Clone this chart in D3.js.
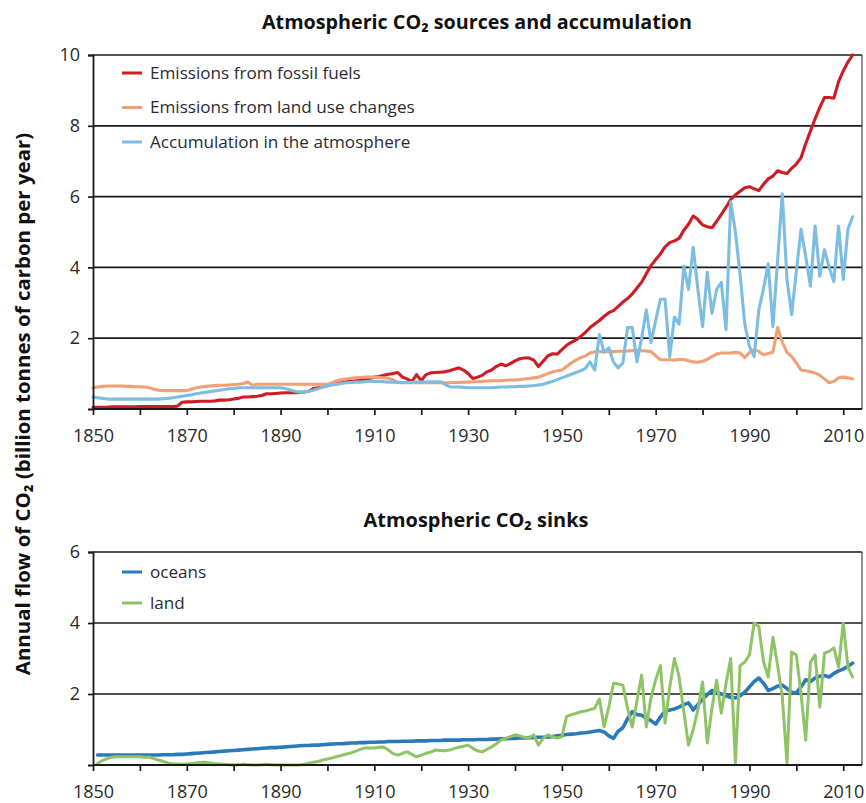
<!DOCTYPE html>
<html><head><meta charset="utf-8">
<script src="https://cdn.jsdelivr.net/npm/d3@7"></script>
<style>
html,body{margin:0;padding:0;background:#fff;}
svg{display:block;font-family:"Open Sans","Noto Sans",sans-serif;}
</style></head>
<body><svg id="c" width="866" height="803"></svg>
<script>
// ---------- DATA ----------
const topStartYear = 1850;   // top panel: 1850..2012
const bottomStartYear = 1851; // bottom panel: 1851..2012
const xTickYears = [1850,1860,1870,1880,1890,1900,1910,1920,1930,1940,1950,1960,1970,1980,1990,2000,2010];
const xTickLabels = ["1850","1870","1890","1910","1930","1950","1970","1990","2010"];
const topYTicks = [2,4,6,8,10];
const bottomYTicks = [2,4,6];

const fossilFuels = [
0.05,0.05,0.05,0.05,0.06,0.06,0.06,0.06,0.06,0.06,
0.07,0.07,0.07,0.07,0.07,0.07,0.07,0.07,0.08,0.19,
0.20,0.20,0.21,0.22,0.22,0.22,0.23,0.25,0.25,0.26,
0.28,0.30,0.34,0.34,0.35,0.36,0.38,0.43,0.43,0.44,
0.45,0.46,0.46,0.46,0.47,0.48,0.50,0.58,0.60,0.63,
0.66,0.69,0.71,0.74,0.77,0.78,0.80,0.82,0.85,0.86,
0.90,0.92,0.95,0.98,1.00,1.03,0.90,0.85,0.77,0.97,
0.80,0.97,1.02,1.03,1.04,1.05,1.08,1.12,1.16,1.10,
1.00,0.86,0.90,0.95,1.05,1.10,1.20,1.27,1.22,1.28,
1.36,1.42,1.44,1.44,1.38,1.20,1.35,1.50,1.56,1.55,
1.68,1.80,1.88,1.95,2.05,2.16,2.30,2.40,2.50,2.62,
2.72,2.78,2.90,3.02,3.12,3.25,3.42,3.58,3.82,4.05,
4.22,4.38,4.58,4.70,4.75,4.82,5.05,5.22,5.45,5.35,
5.20,5.15,5.12,5.30,5.50,5.70,5.92,6.05,6.15,6.25,
6.28,6.22,6.17,6.35,6.50,6.58,6.73,6.68,6.65,6.80,
6.92,7.10,7.50,7.85,8.20,8.52,8.80,8.80,8.78,9.25,
9.55,9.80,10.0];

const landUse = [
0.60,0.62,0.64,0.65,0.65,0.65,0.65,0.64,0.64,0.63,
0.63,0.62,0.60,0.56,0.53,0.52,0.52,0.52,0.52,0.52,
0.52,0.56,0.60,0.62,0.64,0.65,0.66,0.67,0.67,0.68,
0.69,0.70,0.72,0.76,0.67,0.70,0.70,0.70,0.70,0.70,
0.70,0.70,0.70,0.70,0.70,0.70,0.70,0.70,0.70,0.70,
0.70,0.74,0.80,0.83,0.85,0.87,0.88,0.89,0.90,0.90,
0.90,0.89,0.88,0.87,0.82,0.76,0.74,0.74,0.74,0.74,
0.74,0.74,0.74,0.74,0.74,0.74,0.74,0.75,0.75,0.76,
0.76,0.77,0.77,0.78,0.79,0.80,0.80,0.80,0.81,0.82,
0.82,0.83,0.85,0.86,0.88,0.90,0.95,1.00,1.05,1.08,
1.10,1.20,1.30,1.38,1.45,1.50,1.58,1.62,1.62,1.62,
1.62,1.62,1.63,1.63,1.64,1.65,1.65,1.65,1.64,1.62,
1.50,1.39,1.39,1.39,1.38,1.40,1.40,1.36,1.33,1.32,
1.35,1.40,1.48,1.55,1.58,1.58,1.58,1.60,1.58,1.45,
1.60,1.68,1.62,1.53,1.57,1.60,2.30,1.88,1.60,1.48,
1.30,1.10,1.08,1.05,1.02,0.95,0.85,0.74,0.78,0.88,
0.90,0.88,0.85];

const atmosphere = [
0.34,0.32,0.30,0.28,0.28,0.28,0.28,0.28,0.28,0.28,
0.28,0.28,0.28,0.28,0.28,0.29,0.30,0.32,0.34,0.36,
0.38,0.40,0.43,0.45,0.47,0.49,0.51,0.53,0.55,0.57,
0.58,0.60,0.60,0.60,0.60,0.60,0.60,0.60,0.60,0.60,
0.60,0.58,0.54,0.50,0.48,0.48,0.50,0.53,0.57,0.62,
0.66,0.68,0.70,0.72,0.74,0.75,0.76,0.76,0.77,0.78,
0.78,0.78,0.77,0.76,0.76,0.75,0.75,0.75,0.75,0.76,
0.76,0.76,0.77,0.77,0.77,0.70,0.63,0.62,0.62,0.61,
0.60,0.60,0.60,0.60,0.60,0.60,0.61,0.62,0.62,0.63,
0.63,0.64,0.64,0.65,0.66,0.68,0.70,0.74,0.78,0.83,
0.88,0.93,0.98,1.03,1.08,1.15,1.33,1.10,2.10,1.60,
1.73,1.33,1.16,1.30,2.30,2.30,1.33,2.00,2.80,1.88,
2.50,3.10,3.10,1.48,2.60,2.40,4.03,3.38,4.57,3.38,
2.33,3.86,2.70,3.38,3.58,2.24,5.85,5.00,3.80,2.40,
1.76,1.48,2.80,3.40,4.10,2.33,4.20,6.08,3.66,2.67,
3.90,5.08,4.30,3.47,5.17,3.75,4.50,4.00,3.60,5.17,
3.66,5.08,5.43];

const oceans = [
0.28,0.28,0.28,0.28,0.28,0.28,0.28,0.28,0.28,0.28,
0.28,0.28,0.28,0.28,0.29,0.29,0.29,0.30,0.30,0.31,
0.32,0.33,0.34,0.35,0.36,0.37,0.38,0.39,0.40,0.41,
0.42,0.43,0.44,0.45,0.46,0.47,0.48,0.49,0.49,0.50,
0.51,0.52,0.53,0.54,0.55,0.55,0.56,0.56,0.57,0.58,
0.59,0.60,0.60,0.61,0.62,0.62,0.63,0.63,0.64,0.64,
0.65,0.65,0.66,0.66,0.66,0.67,0.67,0.67,0.68,0.68,
0.68,0.69,0.69,0.69,0.70,0.70,0.70,0.70,0.71,0.71,
0.71,0.72,0.72,0.72,0.73,0.73,0.74,0.74,0.75,0.75,
0.76,0.76,0.77,0.77,0.78,0.78,0.79,0.80,0.82,0.84,
0.86,0.87,0.88,0.90,0.91,0.93,0.95,0.97,0.93,0.82,
0.75,0.95,1.05,1.30,1.50,1.42,1.40,1.32,1.25,1.15,
1.35,1.52,1.55,1.58,1.63,1.70,1.75,1.55,1.70,1.85,
1.98,2.10,2.05,2.00,1.95,1.90,1.89,1.95,2.05,2.20,
2.35,2.45,2.30,2.10,2.15,2.22,2.25,2.15,2.05,2.03,
2.20,2.40,2.35,2.45,2.50,2.52,2.48,2.58,2.65,2.70,
2.78,2.87];

const landSink = [
0.05,0.12,0.18,0.22,0.23,0.23,0.23,0.23,0.23,0.23,
0.22,0.22,0.18,0.14,0.10,0.06,0.03,0.03,0.02,0.03,
0.04,0.06,0.07,0.08,0.06,0.04,0.03,0.02,0.01,0.00,
0.01,0.02,0.01,0.00,0.00,0.01,0.02,0.01,0.00,0.00,
0.00,0.00,0.00,0.00,0.02,0.05,0.08,0.10,0.14,0.17,
0.20,0.24,0.27,0.31,0.34,0.39,0.44,0.48,0.48,0.48,
0.50,0.51,0.42,0.32,0.28,0.33,0.37,0.30,0.23,0.28,
0.33,0.36,0.42,0.41,0.40,0.42,0.46,0.50,0.53,0.56,
0.47,0.40,0.37,0.44,0.51,0.60,0.70,0.75,0.80,0.85,
0.82,0.78,0.76,0.85,0.56,0.75,0.85,0.80,0.76,0.80,
1.37,1.42,1.45,1.50,1.52,1.56,1.60,1.86,1.07,1.63,
2.30,2.28,2.25,1.60,1.07,1.80,2.53,1.07,1.90,2.40,
2.80,1.18,2.20,3.00,2.48,1.50,0.56,1.00,1.55,2.34,
0.62,1.60,2.39,1.46,2.30,3.00,0.06,2.80,2.90,3.10,
4.00,3.90,2.90,2.48,3.60,2.80,1.92,0.06,3.18,3.10,
2.00,0.70,2.90,3.10,1.63,3.15,3.20,3.30,2.76,4.00,
2.76,2.48];

const topTitle = "Atmospheric CO\u2082 sources and accumulation";
const bottomTitle = "Atmospheric CO\u2082 sinks";
const yTitle = "Annual flow of CO\u2082 (billion tonnes of carbon per year)";
const topSeries = [
  {name:"Emissions from fossil fuels", values:fossilFuels, color:"#cf1b24"},
  {name:"Emissions from land use changes", values:landUse, color:"#f0a077"},
  {name:"Accumulation in the atmosphere", values:atmosphere, color:"#7dbde2"}
];
const bottomSeries = [
  {name:"oceans", values:oceans, color:"#2a79b9"},
  {name:"land", values:landSink, color:"#8fc466"}
];

// ---------- DRAW ----------
const svg = d3.select("#c");
const x = d3.scaleLinear().domain([1850, 2014]).range([93, 862]);

function fitSize(text, base, target, weight){
  const t = svg.append("text").attr("font-size",base).attr("font-weight",weight||"normal").text(text);
  const w = t.node().getComputedTextLength(); t.remove();
  return base*target/w;
}
const legendSize = fitSize(topSeries[0].name, 15, 211);

function panel(opts){
  const y = d3.scaleLinear().domain([0, opts.ymax]).range([opts.y0, opts.y1]);
  const g = svg.append("g");
  g.selectAll("line.grid").data(opts.yTicks).join("line")
    .attr("x1", x.range()[0]).attr("x2", x.range()[1])
    .attr("y1", d=>y(d)).attr("y2", d=>y(d))
    .attr("stroke","#1a1a1a").attr("stroke-width",1.7);
  g.append("line").attr("x1",x.range()[1]).attr("x2",x.range()[1])
    .attr("y1",y(0)).attr("y2",y(opts.ymax)).attr("stroke","#444").attr("stroke-width",1.2);
  const line = d3.line().x((d,i)=>x(opts.start+i)).y(d=>y(d));
  opts.series.forEach(s=>{
    g.append("path").datum(s.values).attr("d",line)
      .attr("fill","none").attr("stroke",s.color).attr("stroke-width",s.w||3.1)
      .attr("stroke-linejoin","round").attr("stroke-linecap","round");
  });
  const ya = d3.axisLeft(y).tickValues(opts.yTicks).tickSize(5).tickPadding(8).tickFormat(d3.format("d"));
  const yg = g.append("g").attr("transform",`translate(${x.range()[0]},0)`).call(ya);
  yg.select(".domain").attr("stroke","#1a1a1a").attr("stroke-width",1.8);
  yg.selectAll(".tick line").attr("stroke","#1a1a1a").attr("stroke-width",1.7);
  yg.selectAll(".tick text").attr("font-size",18).attr("fill","#2a2a2a").attr("font-family","Open Sans, sans-serif");
  const xa = d3.axisBottom(x).tickValues(xTickYears).tickSize(6).tickPadding(14)
    .tickFormat(d => xTickLabels.includes(String(d)) ? String(d) : "");
  const xg = g.append("g").attr("transform",`translate(0,${y(0)})`).call(xa);
  xg.select(".domain").attr("stroke","#1a1a1a").attr("stroke-width",1.9).attr("d",`M${x.range()[0]},0H${x.range()[1]}`);
  xg.selectAll(".tick line").attr("stroke","#1a1a1a").attr("stroke-width",1.7);
  xg.selectAll(".tick text").attr("font-size",18).attr("fill","#2a2a2a").attr("font-family","Open Sans, sans-serif");
  opts.series.forEach((s,i)=>{
    const ly = opts.legendY + i*opts.legendStep;
    g.append("line").attr("x1",122).attr("x2",142).attr("y1",ly).attr("y2",ly)
      .attr("stroke",s.color).attr("stroke-width",3);
    g.append("text").attr("x",150).attr("y",ly).attr("dy","0.35em")
      .attr("font-size",legendSize).attr("fill","#2a2a33").text(s.name);
  });
  const t = g.append("text").attr("x",opts.titleX).attr("y",opts.titleY).attr("text-anchor","middle")
    .attr("font-weight","bold").attr("font-size",18).attr("fill","#111").text(opts.title);
  const w = t.node().getComputedTextLength();
  t.attr("font-size", 18*opts.titleW/w);
}

panel({start:topStartYear, series:topSeries, ymax:10, y0:409, y1:55, yTicks:topYTicks,
  legendY:73, legendStep:34.5, title:topTitle, titleX:477, titleY:29, titleW:430});
panel({start:bottomStartYear, series:bottomSeries.map((s,i)=>Object.assign({w:i===0?3.6:3.0},s)), ymax:6, y0:765, y1:552, yTicks:bottomYTicks,
  legendY:572, legendStep:31, title:bottomTitle, titleX:476, titleY:527, titleW:225});

const yt = svg.append("text").attr("transform","translate(30,404) rotate(-90)")
  .attr("text-anchor","middle").attr("font-weight","bold").attr("font-size",15).attr("fill","#111").text(yTitle);
const yw = yt.node().getComputedTextLength();
yt.attr("font-size", 15*543/yw);
</script></body></html>
